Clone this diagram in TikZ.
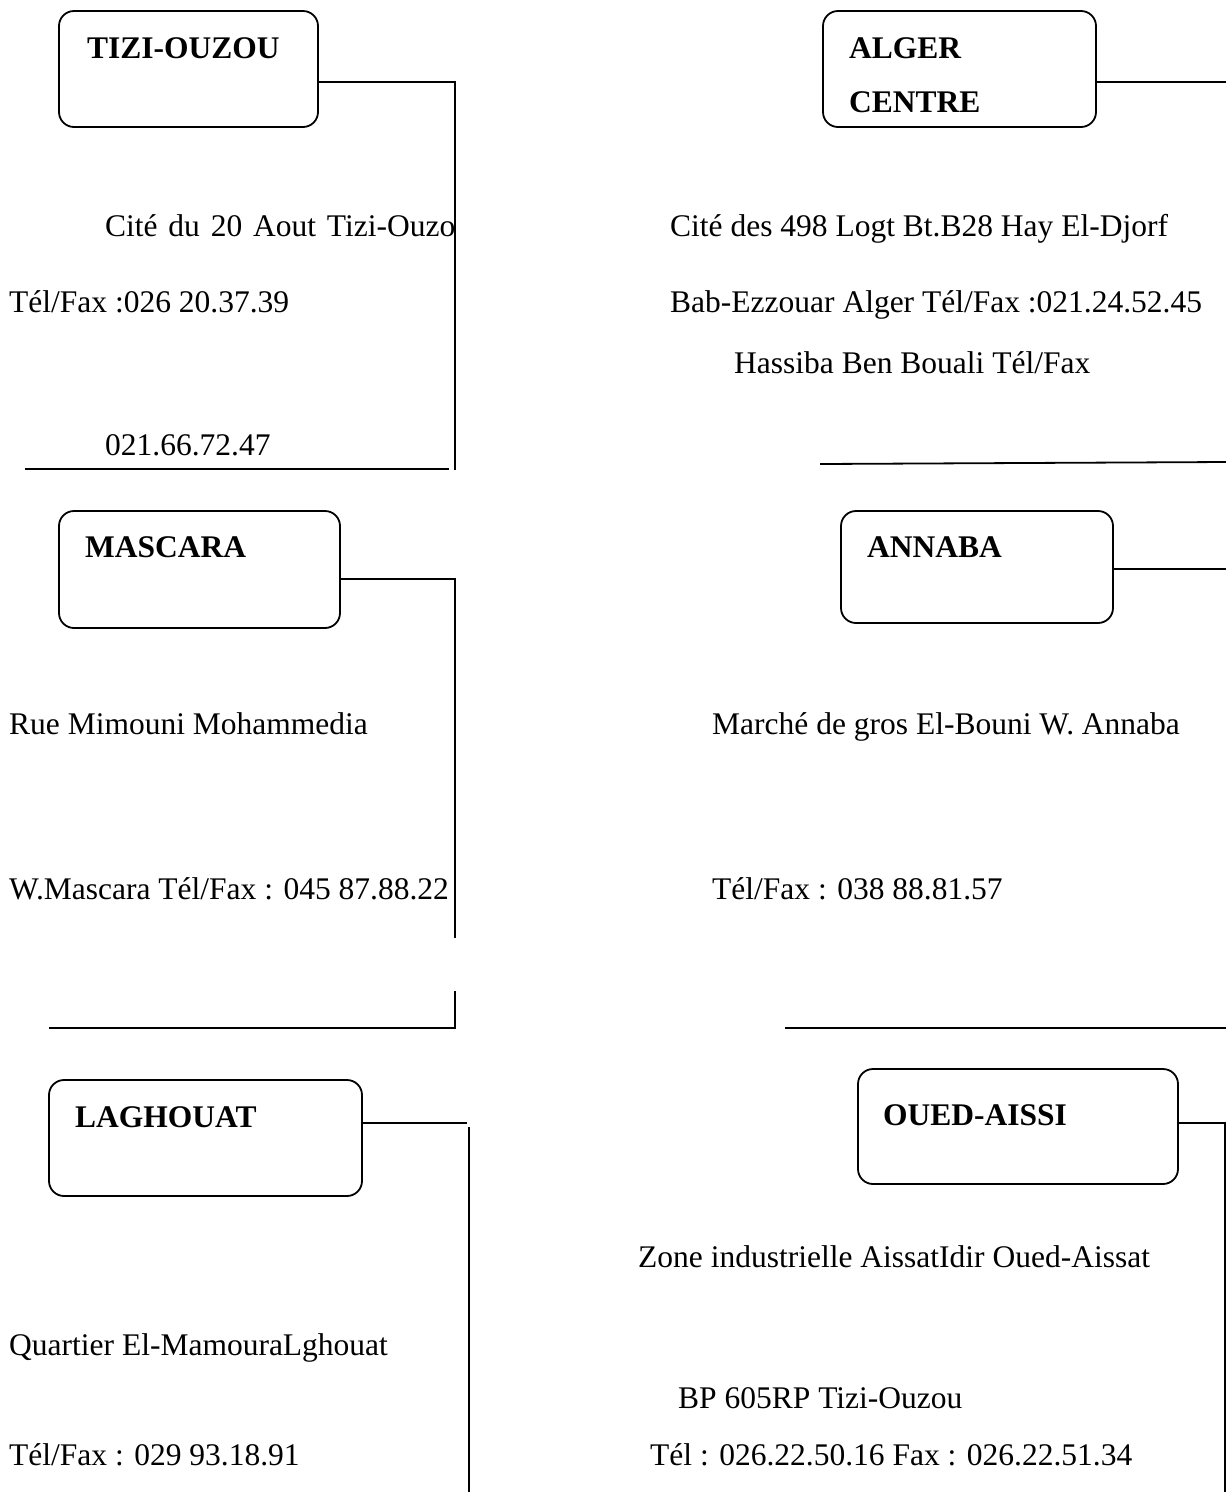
\documentclass[tikz,border=0pt]{standalone}
\usepackage{fontspec}
\setmainfont{Liberation Serif}
\usetikzlibrary{calc}
\begin{document}
\begin{tikzpicture}[x=1pt,y=-1pt,
  agence/.style={draw,line width=1.8pt,rounded corners=15pt,inner sep=0pt},
  titre/.style={anchor=base west,inner sep=0pt,font=\fontsize{31.5}{36}\selectfont\bfseries},
  adresse/.style={anchor=base west,inner sep=0pt,font=\fontsize{31.5}{36}\selectfont},
  trait/.style={line width=1.8pt}]
\useasboundingbox (0,0) rectangle (1226,1492);
\fill[white] (0,0) rectangle (1226,1492);

% --- Tizi-Ouzou ---
\node[agence,minimum width=259pt,minimum height=116pt] (tizi) at (188.5,69) {};
\node[titre] (tiziT) at (87,58) {TIZI-OUZOU};
\node[adresse] (tizi1) at (105,236) {\hbox to 350pt{Cité\hfil\ du\hfil\ 20\hfil\ Aout\hfil\ Tizi-Ouzo}};
\node[adresse] (tizi2) at (9,312) {Tél/Fax :026 20.37.39};
\node[adresse] (tizi3) at (105,455) {021.66.72.47};
\coordinate (tA) at (455,82);
\coordinate (tB) at (455,470);
\draw[trait] (tizi.east |- tA) -- (tA) -- (tB);
\coordinate (tL1) at (25,469);
\coordinate (tL2) at (449,469);
\draw[trait] (tL1) -- (tL2);

% --- Alger Centre ---
\node[agence,minimum width=273pt,minimum height=116pt] (alger) at (959.5,69) {};
\node[titre] (algerT1) at (849,58) {ALGER};
\node[titre] (algerT2) at (849,112) {CENTRE};
\node[adresse] (alger1) at (670,236) {Cité des 498 Logt Bt.B28 Hay El-Djorf};
\node[adresse] (alger2) at (670,312) {Bab-Ezzouar Alger Tél/Fax :021.24.52.45};
\node[adresse] (alger3) at (734,373) {Hassiba Ben Bouali Tél/Fax};
\coordinate (aA) at (1226,82);
\draw[trait] (alger.east |- aA) -- (aA);
\coordinate (aL1) at (820,464);
\coordinate (aL2) at (1226,462);
\draw[trait] (aL1) -- (aL2);

% --- Mascara ---
\node[agence,minimum width=281pt,minimum height=117pt] (mascara) at (199.5,569.5) {};
\node[titre] (mascaraT) at (85,557) {MASCARA};
\node[adresse] (mascara1) at (9,734) {Rue Mimouni Mohammedia};
\node[adresse] (mascara2) at (9,899) {W.Mascara Tél/Fax : 045 87.88.22};
\coordinate (mA) at (455,579);
\coordinate (mB) at (455,938);
\draw[trait] (mascara.east |- mA) -- (mA) -- (mB);
\coordinate (mC) at (455,991);
\coordinate (mD) at (455,1028);
\coordinate (mE) at (49,1028);
\draw[trait] (mC) -- (mD) -- (mE);

% --- Annaba ---
\node[agence,minimum width=272pt,minimum height=112pt] (annaba) at (977,567) {};
\node[titre] (annabaT) at (867,557) {ANNABA};
\node[adresse] (annaba1) at (712,734) {Marché de gros El-Bouni W. Annaba};
\node[adresse] (annaba2) at (712,899) {Tél/Fax : 038 88.81.57};
\coordinate (nA) at (1226,569);
\draw[trait] (annaba.east |- nA) -- (nA);
\coordinate (nL1) at (785,1028);
\coordinate (nL2) at (1226,1028);
\draw[trait] (nL1) -- (nL2);

% --- Laghouat ---
\node[agence,minimum width=313pt,minimum height=116pt] (laghouat) at (205.5,1138) {};
\node[titre] (laghouatT) at (75,1127) {LAGHOUAT};
\node[adresse] (laghouat1) at (9,1355) {Quartier El-MamouraLghouat};
\node[adresse] (laghouat2) at (9,1465) {Tél/Fax : 029 93.18.91};
\coordinate (lA) at (467,1123);
\draw[trait] (laghouat.east |- lA) -- (lA);
\coordinate (lB) at (469,1127);
\coordinate (lC) at (469,1492);
\draw[trait] (lB) -- (lC);

% --- Oued-Aissi ---
\node[agence,minimum width=320pt,minimum height=115pt] (oued) at (1018,1126.5) {};
\node[titre] (ouedT) at (883,1125) {OUED-AISSI};
\node[adresse] (oued1) at (638,1267) {Zone industrielle AissatIdir Oued-Aissat};
\node[adresse] (oued2) at (678,1408) {BP 605RP Tizi-Ouzou};
\node[adresse] (oued3) at (650,1465) {Tél : 026.22.50.16 Fax : 026.22.51.34};
\coordinate (oA) at (1225,1123);
\coordinate (oB) at (1225,1492);
\draw[trait] (oued.east |- oA) -- (oA) -- (oB);
\end{tikzpicture}
\end{document}
